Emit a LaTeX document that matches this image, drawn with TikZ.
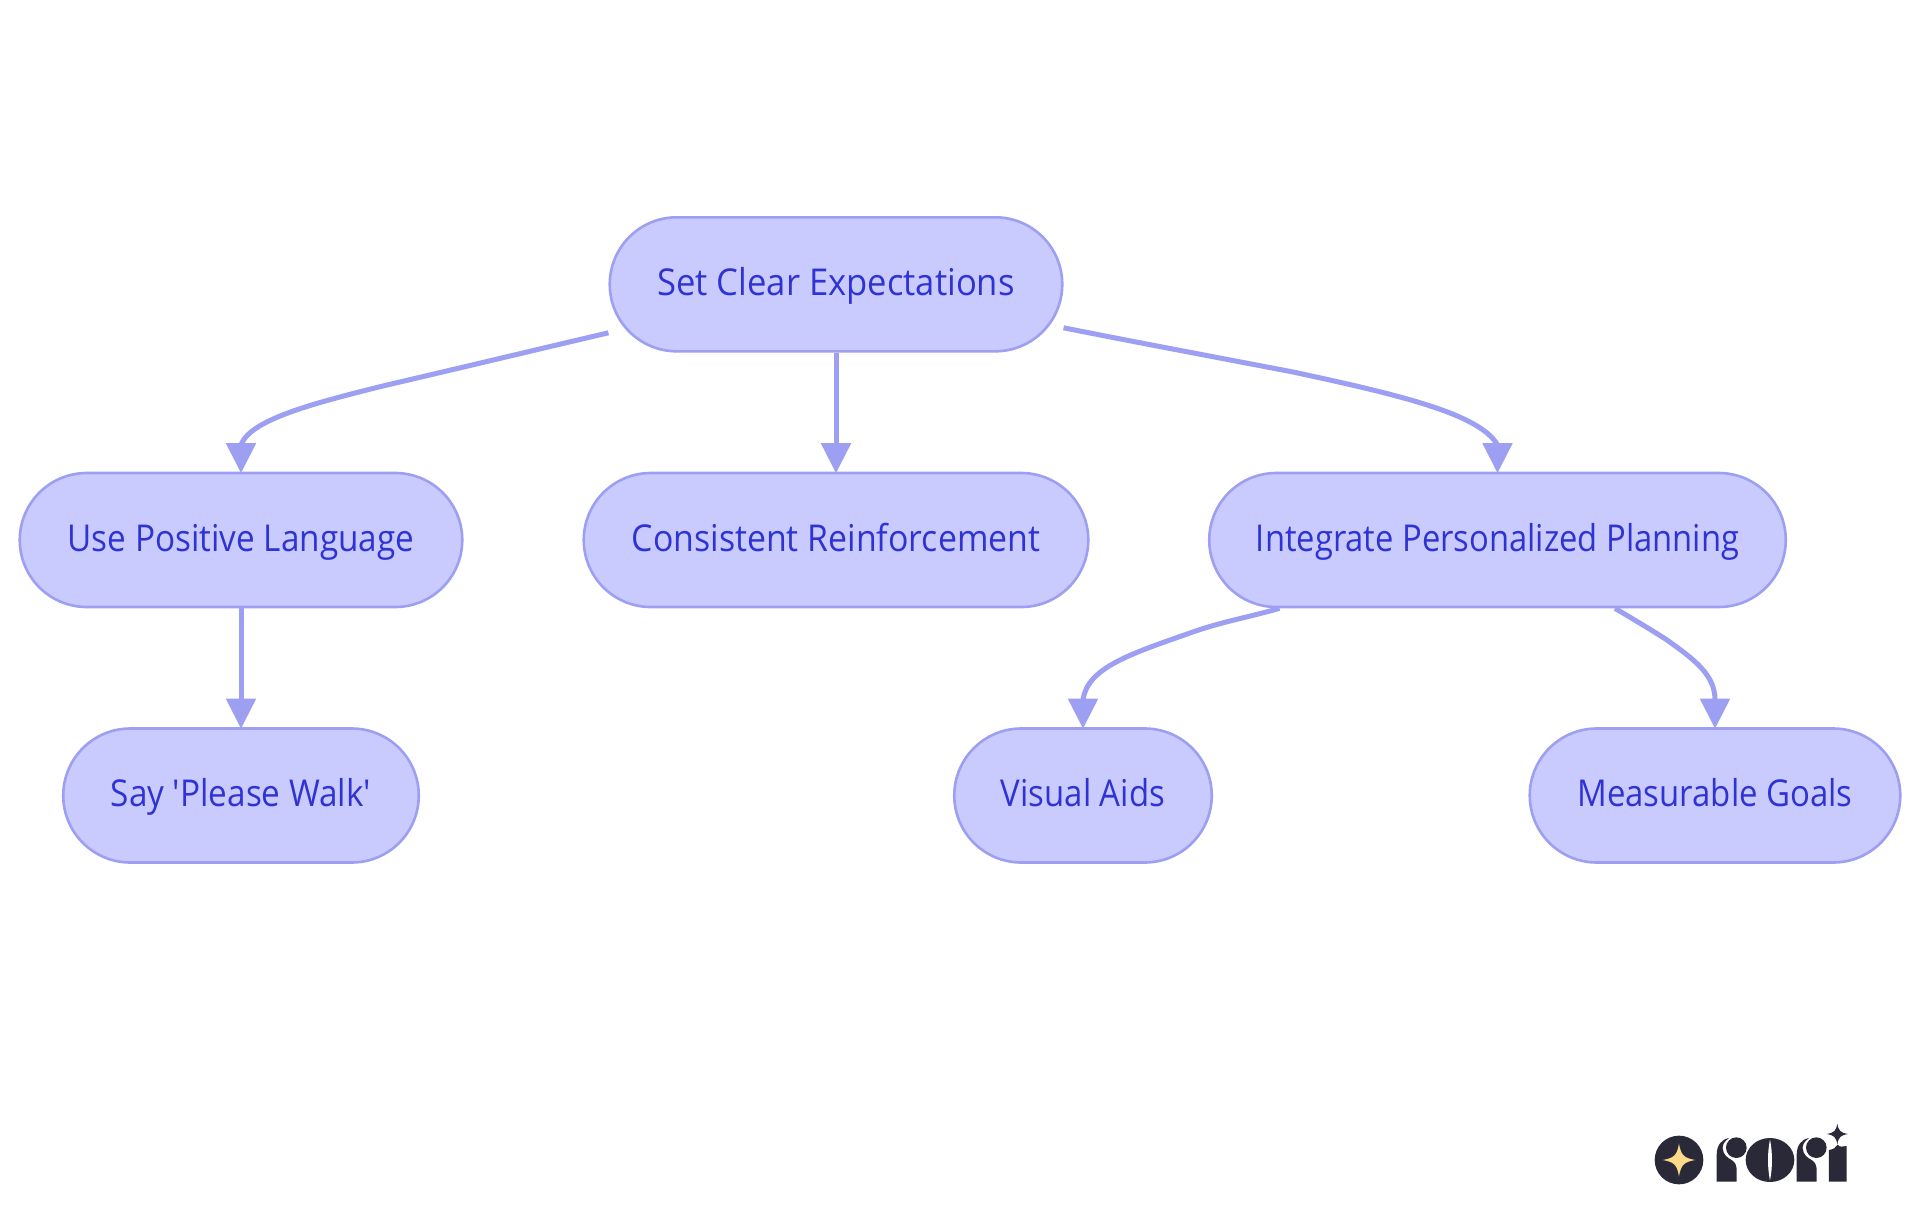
\documentclass[tikz,border=0pt]{standalone}
\usepackage{fontspec}
\usepackage{graphicx}
\newfontfamily\labelfont{Open Sans}
\usetikzlibrary{arrows.meta,calc}
\definecolor{nodefill}{HTML}{C9CBFF}
\definecolor{nodeline}{HTML}{9C9FF2}
\definecolor{nodetext}{HTML}{2F33D3}
\definecolor{logodark}{HTML}{2A2937}
\definecolor{logostar}{HTML}{FDD98A}
\tikzset{
  x=1pt,y=-1pt,
  flow/.style={rectangle,draw=nodeline,fill=nodefill,line width=2.6pt,rounded corners=67pt,
    minimum height=134pt,inner sep=0pt,text=nodetext,font=\labelfont\fontsize{37}{44}\selectfont,
    text height=22pt,text depth=0pt},
  link/.style={draw=nodeline,line width=5pt,shorten >=-1.5pt,-{Triangle[width=29pt,length=30pt]}},
}
\newcommand{\lbl}[2]{\scalebox{#1}[1]{#2}}
\newcommand{\starshape}[4]{% cx cy rx ry
  \fill (#1-#3,#2) .. controls (#1-#3*0.3,#2-#4*0.12) and (#1-#3*0.12,#2-#4*0.3) .. (#1,#2-#4)
    .. controls (#1+#3*0.12,#2-#4*0.3) and (#1+#3*0.3,#2-#4*0.12) .. (#1+#3,#2)
    .. controls (#1+#3*0.3,#2+#4*0.12) and (#1+#3*0.12,#2+#4*0.3) .. (#1,#2+#4)
    .. controls (#1-#3*0.12,#2+#4*0.3) and (#1-#3*0.3,#2+#4*0.12) .. (#1-#3,#2) -- cycle;}
\begin{document}
\begin{tikzpicture}
\useasboundingbox (0,0) rectangle (1920,1215);
\fill[white] (0,0) rectangle (1920,1215);
\node[flow,minimum width=452.5pt] (top) at (836,284.3) {\lbl{0.935}{Set Clear Expectations}};
\node[flow,minimum width=442.5pt] (pos) at (241,540) {\lbl{0.90}{Use Positive Language}};
\node[flow,minimum width=504.5pt] (rein) at (836,540) {\lbl{0.915}{Consistent Reinforcement}};
\node[flow,minimum width=576.5pt] (plan) at (1497.5,540) {\lbl{0.885}{Integrate Personalized Planning}};
\node[flow,minimum width=355.5pt] (walk) at (241,795.5) {\lbl{0.90}{Say 'Please Walk'}};
\node[flow,minimum width=257.5pt] (aids) at (1083,795.5) {\lbl{0.89}{Visual Aids}};
\node[flow,minimum width=370.5pt] (goals) at (1715,795.5) {\lbl{0.89}{Measurable Goals}};
\coordinate (s1) at ($(top.west)+(0,48.5)$);
\coordinate (s3) at ($(top.east)+(0,43.5)$);
\coordinate (s4) at ($(plan.south)+(-218,0)$);
\coordinate (s5) at ($(plan.south)+(117.5,0)$);
\path[link] (s1) .. controls (535,350) and (460,368) .. (387,385)
   .. controls (310,404) and (250,420) .. (241,445) -- (pos.north);
\path[link] (top.south) -- (rein.north);
\path[link] (s3) .. controls (1140,343) and (1215,357) .. (1293,372)
   .. controls (1400,395) and (1480,414) .. (1497.5,445) -- (plan.north);
\path[link] (pos.south) -- (walk.north);
\path[link] (s4) .. controls (1250,617) and (1220,622) .. (1190,633)
   .. controls (1130,654) and (1087,668) .. (1083,700) -- (aids.north);
\path[link] (s5) .. controls (1632,618.5) and (1650,629) .. (1667,640)
   .. controls (1695,660) and (1715,675) .. (1715,700) -- (goals.north);
\begin{scope}[shift={(1620,1100)},x=0.3333pt,y=-0.3333pt]
  \fill[logodark] (177,180) circle[radius=73];
  \begin{scope}[logostar]\starshape{177}{180}{49}{49}\end{scope}
  \fill[logodark] (290,245) -- (290,165) .. controls (290,135) and (305,118) .. (327,114)
     .. controls (312,125) and (307,135) .. (308,145) .. controls (309,165) and (325,175) .. (335,180) .. controls (345,187) and (350,195) .. (350,205) -- (350,245) -- cycle;
  \fill[logodark] (349,143) circle[radius=31];
  \fill[logodark] (450,180) ellipse[x radius=73,y radius=66];
  \fill[white] (450,118) .. controls (442,160) and (442,200) .. (450,242) .. controls (458,200) and (458,160) .. (450,118) -- cycle;
  \fill[logodark] (530,245) -- (530,165) .. controls (530,135) and (545,118) .. (567,114)
     .. controls (552,125) and (547,135) .. (548,145) .. controls (549,165) and (565,175) .. (575,180) .. controls (585,187) and (590,195) .. (590,205) -- (590,245) -- cycle;
  \fill[logodark] (589,143) circle[radius=31];
  \fill[logodark] (627,245) -- (627,150) .. controls (640,148) and (648,143) .. (653,134) .. controls (658,143) and (668,139) .. (680,138) -- (680,245) -- cycle;
  \begin{scope}[logodark]\starshape{652}{102}{32}{31}\end{scope}
\end{scope}
\end{tikzpicture}
\end{document}
